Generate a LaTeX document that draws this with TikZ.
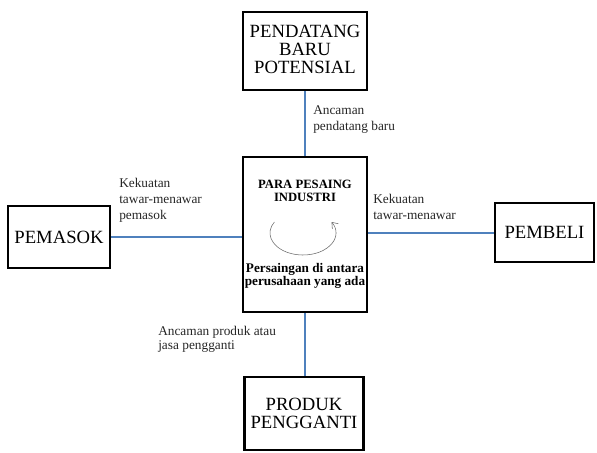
\documentclass[tikz,border=0pt]{standalone}
\usepackage{fontspec}
\setmainfont{Liberation Serif}
\usepackage{tikz}
\usetikzlibrary{arrows.meta,positioning}

\definecolor{linkblue}{RGB}{79,129,189}

\begin{document}
\begin{tikzpicture}[
  x=0.75pt, y=-0.75pt,
  force/.style={draw,line width=1.7pt,align=center,font=\fontsize{14}{13.5}\selectfont,inner sep=1pt},
  link/.style={draw=linkblue,line width=1.5pt},
  note/.style={anchor=west,align=left,inner sep=0pt,text=black!85,font=\fontsize{10}{12}\selectfont}
]

% Canvas
\useasboundingbox (0,0) rectangle (597,453);

% Forces
\node[force,minimum width=93pt,minimum height=58.5pt,text depth=3pt] (pendatang) at (305,51) {PENDATANG\\BARU\\POTENSIAL};
\node[force,minimum width=93pt,minimum height=116.25pt] (pesaing) at (305,234.5) {};
\node[force,minimum width=76.5pt,minimum height=46.5pt] (pemasok) at (59,237) {PEMASOK};
\node[force,minimum width=74.25pt,minimum height=44.25pt] (pembeli) at (544.5,232.5) {PEMBELI};
\node[force,minimum width=89.25pt,minimum height=54.75pt] (pengganti) at (304,413.5) {PRODUK\\PENGGANTI};

% Inside the rivalry box
\node[align=center,inner sep=0pt,font=\bfseries\fontsize{9.5}{9.5}\selectfont] (judul) at (305,191) {PARA PESAING\\INDUSTRI};
\node[align=center,inner sep=0pt,font=\bfseries\fontsize{9.9}{9.6}\selectfont] (rival) at (305,276) {Persaingan di antara\\perusahaan yang ada};
\draw[black!60,thin,-{Straight Barb[length=4pt,width=6pt]}] (303,233) ++(210:33 and 22) arc[start angle=210,end angle=-30,x radius=33,y radius=22];

% Links
\draw[link] (pendatang.south) -- (pesaing.north);
\draw[link] (pesaing.south) -- (pengganti.north -| pesaing.south);
\draw[link] (pemasok.east) -- (pemasok.east -| pesaing.west);
\draw[link] (pembeli.west) -- (pembeli.west -| pesaing.east);

% Annotations
\node[note] (n1) at (313,120) {Ancaman\\pendatang baru};
\node[note] (n2) at (119,200) {Kekuatan\\tawar-menawar\\pemasok};
\node[note] (n3) at (373,207) {Kekuatan\\tawar-menawar};
\node[note,font=\fontsize{10}{10.5}\selectfont] (n4) at (158,339) {Ancaman produk atau\\jasa pengganti};

\end{tikzpicture}
\end{document}
